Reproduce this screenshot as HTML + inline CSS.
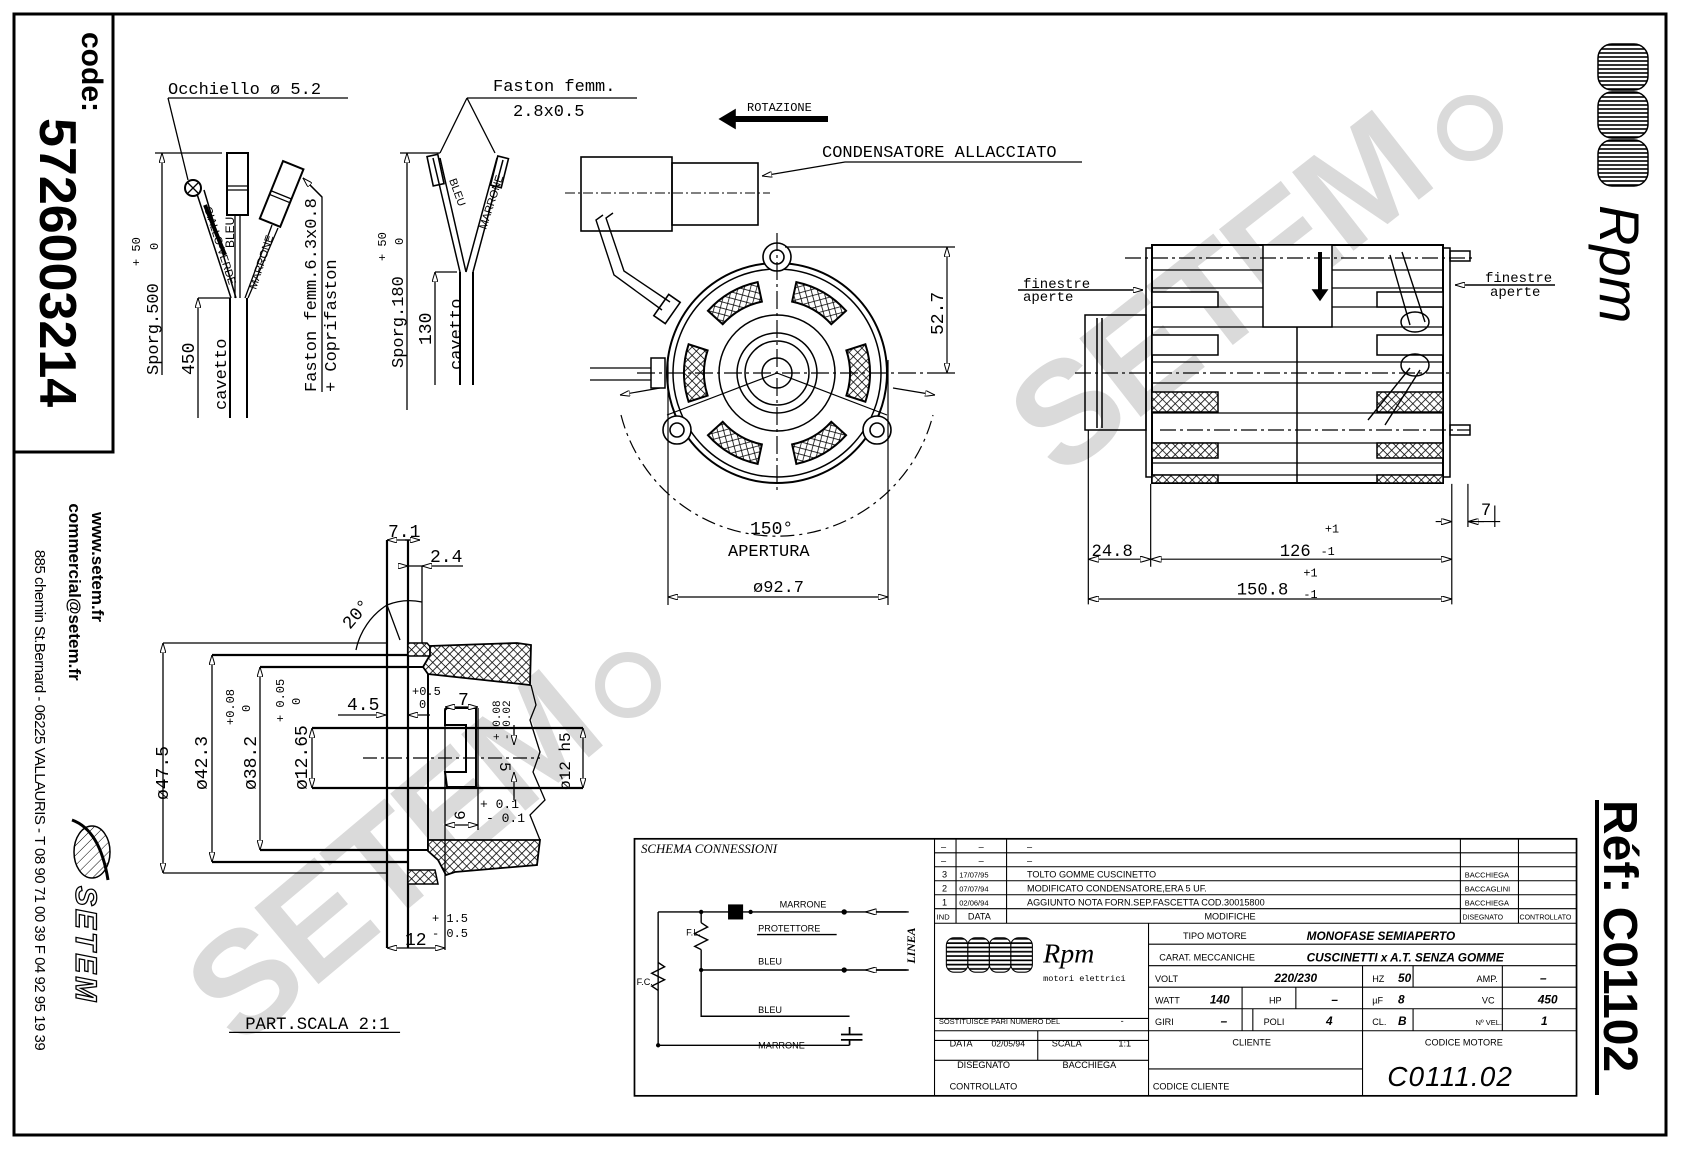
<!DOCTYPE html>
<html><head><meta charset="utf-8"><style>
html,body{margin:0;padding:0;background:#fff;width:1683px;height:1153px;overflow:hidden}
svg{display:block}
text{font-family:"Liberation Sans",sans-serif;fill:#000}
.m{font-family:"Liberation Mono",monospace}
</style></head><body>
<svg width="1683" height="1153" viewBox="0 0 1683 1153" xmlns="http://www.w3.org/2000/svg">
<defs>
<pattern id="h" width="6" height="6" patternUnits="userSpaceOnUse" patternTransform="rotate(45)"><rect width="6" height="6" fill="#fff"/><path d="M0 0V6M0 0H6" stroke="#000" stroke-width="1.6"/></pattern>
<pattern id="d" width="7" height="7" patternUnits="userSpaceOnUse" patternTransform="rotate(45)"><rect width="7" height="7" fill="#fff"/><path d="M0 0V7" stroke="#000" stroke-width="1"/></pattern>
<pattern id="st" width="4" height="4" patternUnits="userSpaceOnUse"><rect width="4" height="4" fill="#fff"/><path d="M0 1H4" stroke="#000" stroke-width="1.6"/></pattern>
<marker id="a" viewBox="0 0 10 6" refX="10" refY="3" markerWidth="10" markerHeight="6" orient="auto-start-reverse" markerUnits="userSpaceOnUse"><path d="M0 0L10 3L0 6Z" fill="#fff" stroke="#000" stroke-width="1"/></marker>
</defs>

<rect x="14" y="14" width="1652" height="1121" fill="none" stroke="#000" stroke-width="3"/>
<path d="M14 452H113V14" fill="none" stroke="#000" stroke-width="3"/>
<path d="M1597 800V1095" stroke="#000" stroke-width="4"/>

<g font-weight="bold" font-family="Liberation Sans,sans-serif">
<text x="0" y="0" font-size="145" transform="translate(1060,480) rotate(-38)" style="fill:#dadada;letter-spacing:-4px">SETEM</text>
<circle cx="1470" cy="128" r="28" fill="none" stroke="#dadada" stroke-width="10"/>
<text x="0" y="0" font-size="145" transform="translate(240,1050) rotate(-40)" style="fill:#dadada;letter-spacing:-4px">SETEM</text>
<circle cx="628" cy="685" r="28" fill="none" stroke="#dadada" stroke-width="10"/>
</g>

<text transform="translate(82,32) rotate(90)" font-size="30" font-weight="bold">code:</text>
<text transform="translate(40,118) rotate(90)" font-size="52" font-weight="bold">5726003214</text>
<text transform="translate(92,567) rotate(90)" font-size="17" font-weight="bold" text-anchor="middle">www.setem.fr</text>
<text transform="translate(69,592) rotate(90)" font-size="17" font-weight="bold" text-anchor="middle">commercial@setem.fr</text>
<text transform="translate(35,800) rotate(90)" font-size="15" text-anchor="middle" style="letter-spacing:-0.5px">885 chemin St.Bernard - 06225 VALLAURIS - T 08 90 71 00 39  F 04 92 95 19 39</text>
<ellipse cx="92" cy="852" rx="18" ry="26" fill="url(#d)" stroke="#000" stroke-width="1.5"/>
<path d="M72 820Q100 830 108 880" fill="none" stroke="#000" stroke-width="3"/>
<text transform="translate(76,886) rotate(90)" font-size="30" font-style="italic" font-weight="bold" style="fill:#fff;stroke:#000;stroke-width:1.3;letter-spacing:3px">SETEM</text>

<g stroke="#000" stroke-width="1.5" fill="url(#st)">
<rect x="1598" y="44" width="50" height="46" rx="14"/>
<rect x="1598" y="92" width="50" height="46" rx="14"/>
<rect x="1598" y="140" width="50" height="46" rx="14"/>
</g>
<text transform="translate(1600,205) rotate(90)" font-size="56" font-style="italic" font-family="Liberation Serif,serif">Rpm</text>
<text transform="translate(1604,800) rotate(90)" font-size="48" font-weight="bold">Réf: C01102</text>

<g fill="none" stroke="#000" stroke-width="1.3">
<path d="M168 98H348M168 98L188 180" />
<path d="M155 153H222"/><path d="M162 153V375" marker-start="url(#a)"/>
<path d="M198 298H230"/><path d="M198 298V418" marker-start="url(#a)"/>
<path d="M230 298V418M247 298V418" stroke-width="2"/>
<rect x="227" y="153" width="21" height="62" stroke-width="2"/><path d="M227 186H248M227 190H248"/>
<path d="M235 215V298M240 215V298"/>
<circle cx="193" cy="188" r="8" stroke-width="2"/><path d="M188 183L198 193M198 183L188 193"/>
<path d="M197 194L231 298M204 190L236 298" stroke-width="1.5"/>
<path d="M205 205L225 255" stroke-width="4"/>
<g transform="rotate(22 282 193)"><rect x="271" y="163" width="22" height="62" stroke-width="2"/><path d="M271 195H293M271 199H293"/></g>
<path d="M272 225L245 298M278 228L248 298"/>
<path d="M303 178L322 197V392" /><path d="M322 197L303 178" marker-end="url(#a)"/>
</g>
<text class="m" x="168" y="94" font-size="17">Occhiello ø 5.2</text>
<text transform="translate(158,375) rotate(-90)" class="m" font-size="17">Sporg.500</text>
<text transform="translate(140,266) rotate(-90)" class="m" font-size="12">+ 50</text>
<text transform="translate(158,250) rotate(-90)" class="m" font-size="12">0</text>
<text transform="translate(194,375) rotate(-90)" class="m" font-size="18">450</text>
<text transform="translate(226,410) rotate(-90)" class="m" font-size="17">cavetto</text>
<text transform="translate(204,208) rotate(72)" font-size="11">GIALLO-VERDE</text>
<text transform="translate(234,248) rotate(-90)" font-size="12">BLEU</text>
<text transform="translate(256,290) rotate(-72)" font-size="11">MARRONE</text>
<text transform="translate(316,392) rotate(-90)" class="m" font-size="17">Faston femm.6.3x0.8</text>
<text transform="translate(336,392) rotate(-90)" class="m" font-size="17">+ Coprifaston</text>

<g fill="none" stroke="#000" stroke-width="1.3">
<path d="M467 98H637M467 98L440 153M467 98L495 153" />
<path d="M400 153H440"/><path d="M407 153V410" marker-start="url(#a)"/>
<path d="M435 272H457"/><path d="M435 272V385" marker-start="url(#a)"/>
<path d="M460 272V385M473 272V385" stroke-width="2"/>
<path d="M460 272L433 158M466 272L440 158M466 272L497 158M473 272L503 160" stroke-width="1.5"/>
<g transform="rotate(-12 436 170)"><rect x="430" y="155" width="11" height="30" stroke-width="1.6"/></g>
<g transform="rotate(14 500 172)"><rect x="494" y="157" width="11" height="30" stroke-width="1.6"/></g>
</g>
<text class="m" x="493" y="91" font-size="17">Faston femm.</text>
<text class="m" x="513" y="116" font-size="17">2.8x0.5</text>
<text transform="translate(403,368) rotate(-90)" class="m" font-size="17">Sporg.180</text>
<text transform="translate(386,261) rotate(-90)" class="m" font-size="12">+ 50</text>
<text transform="translate(403,245) rotate(-90)" class="m" font-size="12">0</text>
<text transform="translate(431,345) rotate(-90)" class="m" font-size="18">130</text>
<text transform="translate(461,370) rotate(-90)" class="m" font-size="17">cavetto</text>
<text transform="translate(449,180) rotate(70)" font-size="11">BLEU</text>
<text transform="translate(486,230) rotate(-72)" font-size="11">MARRONE</text>

<g fill="none" stroke="#000" stroke-width="1.6">
<rect x="581" y="157" width="91" height="74"/><rect x="672" y="163" width="86" height="62"/>
<path d="M565 193H770" stroke-dasharray="10 3 2 3" stroke-width="1"/>
<path d="M603 215L596 220L614 275L662 310M613 213L606 218L624 271L670 302" stroke-width="1.4"/>
<rect x="660" y="296" width="14" height="26" transform="rotate(35 667 309)"/>
<path d="M1082 162H845L762 176" marker-end="url(#a)" stroke-width="1.3"/>
<path d="M828 119H735" stroke-width="6"/><path d="M735 110L720 119L735 128Z" fill="#000"/>
</g>
<text class="m" x="747" y="111" font-size="12">ROTAZIONE</text>
<text class="m" x="822" y="157" font-size="17">CONDENSATORE ALLACCIATO</text>

<g fill="none" stroke="#000" stroke-width="1.5">
<circle cx="777" cy="373" r="110" stroke-width="2"/>
<circle cx="777" cy="373" r="104"/>
<circle cx="777" cy="373" r="58"/><circle cx="777" cy="373" r="40"/><circle cx="777" cy="373" r="32"/><circle cx="777" cy="373" r="15"/>
</g>
<g transform="translate(777,373)" fill="url(#h)" stroke="#000" stroke-width="2">
<path d="M69.4 -22.6A73 73 0 0 1 69.4 22.6L88.4 28.7A93 93 0 0 0 88.4 -28.7Z"/>
<path transform="rotate(60)" d="M69.4 -22.6A73 73 0 0 1 69.4 22.6L88.4 28.7A93 93 0 0 0 88.4 -28.7Z"/>
<path transform="rotate(120)" d="M69.4 -22.6A73 73 0 0 1 69.4 22.6L88.4 28.7A93 93 0 0 0 88.4 -28.7Z"/>
<path transform="rotate(180)" d="M69.4 -22.6A73 73 0 0 1 69.4 22.6L88.4 28.7A93 93 0 0 0 88.4 -28.7Z"/>
<path transform="rotate(240)" d="M69.4 -22.6A73 73 0 0 1 69.4 22.6L88.4 28.7A93 93 0 0 0 88.4 -28.7Z"/>
<path transform="rotate(300)" d="M69.4 -22.6A73 73 0 0 1 69.4 22.6L88.4 28.7A93 93 0 0 0 88.4 -28.7Z"/>
</g>
<g fill="#fff" stroke="#000" stroke-width="1.6">
<circle cx="777" cy="257" r="14"/><circle cx="777" cy="257" r="7"/>
<circle cx="677" cy="430" r="14"/><circle cx="677" cy="430" r="7"/>
<circle cx="877" cy="430" r="14"/><circle cx="877" cy="430" r="7"/>
</g>
<g fill="none" stroke="#000" stroke-width="1.2">
<path d="M777 233V490M637 373H935" stroke-dasharray="18 4 3 4"/>
<path d="M777 373L667 415M777 373L887 415" />
<path d="M621 415A161 161 0 0 0 933 415" stroke-dasharray="14 5 3 5"/>
<path d="M620 395L660 388" marker-start="url(#a)"/><path d="M935 395L893 388" marker-start="url(#a)"/>
<path d="M785 247H955"/><path d="M947 247V373" marker-start="url(#a)" marker-end="url(#a)"/><path d="M935 373H955"/>
<path d="M668 360V605M888 360V605"/><path d="M668 597H888" marker-start="url(#a)" marker-end="url(#a)"/>
<rect x="651" y="358" width="14" height="30" stroke-width="1.5"/>
<path d="M590 368H651M590 380H651"/>
</g>
<text transform="translate(943,335) rotate(-90)" class="m" font-size="18">52.7</text>
<text class="m" x="750" y="534" font-size="18">150°</text>
<text class="m" x="728" y="556" font-size="17">APERTURA</text>
<text class="m" x="753" y="592" font-size="17">ø92.7</text>

<g fill="none" stroke="#000" stroke-width="1.5">
<rect x="1152" y="245" width="291" height="238" stroke-width="2"/>
<rect x="1146" y="248" width="6" height="229"/><rect x="1443" y="248" width="7" height="229"/>
<rect x="1085" y="315" width="61" height="115"/><path d="M1097 318V428M1102 318V428"/>
<path d="M1152 270H1443M1152 288H1443M1152 307H1443M1152 327H1443M1152 362H1443M1152 383H1443M1152 413H1443M1152 443H1443M1152 463H1443M1152 475H1443" stroke-width="1.3"/>
<rect x="1263" y="245" width="69" height="82" fill="#fff"/>
<path d="M1297 327V483"/>
<rect x="1152" y="335" width="66" height="20" fill="#fff"/><rect x="1377" y="335" width="66" height="20" fill="#fff"/>
<rect x="1152" y="292" width="66" height="15" fill="#fff"/><rect x="1377" y="292" width="66" height="15" fill="#fff"/>
<rect x="1152" y="392" width="66" height="20" fill="url(#h)"/><rect x="1377" y="392" width="66" height="20" fill="url(#h)"/>
<rect x="1152" y="443" width="66" height="15" fill="url(#h)"/><rect x="1377" y="443" width="66" height="15" fill="url(#h)"/>
<rect x="1152" y="475" width="66" height="8" fill="url(#h)"/><rect x="1377" y="475" width="66" height="8" fill="url(#h)"/>
<path d="M1125 258H1475M1075 373H1450M1160 430H1470" stroke-dasharray="16 4 3 4" stroke-width="1.2"/>
<path d="M1320 252V292" stroke-width="4"/><path d="M1313 290L1320 300L1327 290Z" fill="#000"/>
<path d="M1390 255L1410 325M1402 252L1425 322" stroke-width="1.4"/><ellipse cx="1415" cy="322" rx="14" ry="10"/>
<path d="M1410 368L1368 420M1420 370L1385 425" stroke-width="1.4"/><ellipse cx="1415" cy="365" rx="14" ry="11"/>
<rect x="1450" y="251" width="20" height="10"/><rect x="1450" y="425" width="20" height="10"/>
<path d="M1018 290H1143" marker-end="url(#a)"/><path d="M1555 285H1455" marker-end="url(#a)"/>
</g>
<text class="m" x="1023" y="288" font-size="14">finestre</text>
<text class="m" x="1023" y="301" font-size="14">aperte</text>
<text class="m" x="1485" y="282" font-size="14">finestre</text>
<text class="m" x="1490" y="296" font-size="14">aperte</text>

<g transform="scale(1.0754)">
<g fill="none" stroke="#000" stroke-width="1.1">
<path d="M1012 400V562M1070 450V527M1350 450V562M1365 450V490M1390 490V470"/>
<path d="M1012 520H1070" marker-start="url(#a)" marker-end="url(#a)"/>
<path d="M1070 520H1350" marker-start="url(#a)" marker-end="url(#a)"/>
<path d="M1012 557H1350" marker-start="url(#a)" marker-end="url(#a)"/>
<path d="M1335 485H1350" marker-end="url(#a)"/><path d="M1380 485H1365" marker-end="url(#a)"/><path d="M1365 485H1395"/>
</g>
<text class="m" x="1015" y="517" font-size="16">24.8</text>
<text class="m" x="1190" y="517" font-size="16">126</text><text class="m" x="1232" y="495" font-size="11">+1</text><text class="m" x="1228" y="516" font-size="11">-1</text>
<text class="m" x="1150" y="553" font-size="16">150.8</text><text class="m" x="1212" y="536" font-size="11">+1</text><text class="m" x="1212" y="556" font-size="11">-1</text>
<text class="m" x="1377" y="479" font-size="16">7</text>
</g>

<g fill="none" stroke="#000" stroke-width="1.3">
<path d="M387 540V948M408 540V948" stroke-width="2.2"/>
<path d="M422 566V643"/>
<path d="M387 540H420" marker-start="url(#a)"/><path d="M420 540H405" marker-start="url(#a)"/>
<path d="M400 566H463"/><path d="M400 566H408" marker-end="url(#a)"/><path d="M430 566H422" marker-end="url(#a)"/>
<path d="M163 643H386M163 873H386"/>
<path d="M212 655H408M260 667H408M212 862H408M260 850H408" stroke-width="2.2"/>
<path d="M163 643V873" marker-start="url(#a)" marker-end="url(#a)"/>
<path d="M212 655V862" marker-start="url(#a)" marker-end="url(#a)"/>
<path d="M260 667V850" marker-start="url(#a)" marker-end="url(#a)"/>
<path d="M312 728V788" marker-start="url(#a)" marker-end="url(#a)"/>
<path d="M312 728H583M312 788H583" stroke-width="2.2"/>
<path d="M363 758H540" stroke-dasharray="14 4 3 4"/>
<rect x="408" y="667" width="20" height="183" stroke-width="2"/>
<path d="M408 643L427 643L438 656L408 656Z" fill="url(#h)" stroke-width="1.5"/>
<path d="M408 870L408 884L438 884L435 870Z" fill="url(#h)" stroke-width="1.5"/>
<path d="M430 655L423 667L428 674L530 685L531 645L517 643L430 646Z" fill="url(#h)" stroke-width="1.8"/>
<path d="M428 840L428 851L438 860L446 875L455 872L537 865L540 840L445 840Z" fill="url(#h)" stroke-width="1.8"/>
<path d="M531 685L536 705L530 720L540 752L533 772L545 800L530 815L540 840"/>
<path d="M445 710L447 708L476 708L476 787L447 787L445 772L466 772L466 725L445 725Z" stroke-width="2"/>
<path d="M445 708V950M478 708V830"/>
<path d="M445 707H478" marker-start="url(#a)" marker-end="url(#a)"/>
<path d="M445 825H478" marker-start="url(#a)" marker-end="url(#a)"/>
<path d="M338 715H386" marker-end="url(#a)"/><path d="M430 715H408" marker-end="url(#a)"/>
<path d="M514 725V745" marker-end="url(#a)"/><path d="M514 800V772" marker-end="url(#a)"/>
<path d="M583 728V788" marker-start="url(#a)" marker-end="url(#a)"/>
<path d="M387 948H445" marker-start="url(#a)" marker-end="url(#a)"/>
<path d="M356 650A70 70 0 0 1 387 605"/><path d="M387 605L400 640M387 605A60 60 0 0 1 422 602"/>
</g>
<text class="m" x="388" y="537" font-size="18">7.1</text>
<text class="m" x="430" y="562" font-size="18">2.4</text>
<text transform="translate(350,630) rotate(-50)" class="m" font-size="18">20°</text>
<text transform="translate(168,800) rotate(-90)" class="m" font-size="18">ø47.5</text>
<text transform="translate(207,790) rotate(-90)" class="m" font-size="18">ø42.3</text>
<text transform="translate(234,725) rotate(-90)" class="m" font-size="12">+0.08</text>
<text transform="translate(250,712) rotate(-90)" class="m" font-size="12">0</text>
<text transform="translate(256,790) rotate(-90)" class="m" font-size="18">ø38.2</text>
<text transform="translate(284,722) rotate(-90)" class="m" font-size="12">+ 0.05</text>
<text transform="translate(300,705) rotate(-90)" class="m" font-size="12">0</text>
<text transform="translate(307,790) rotate(-90)" class="m" font-size="18">ø12.65</text>
<text class="m" x="347" y="710" font-size="18">4.5</text>
<text class="m" x="412" y="695" font-size="12">+0.5</text><text class="m" x="419" y="708" font-size="12">0</text>
<text class="m" x="458" y="705" font-size="18">7</text>
<text transform="translate(500,740) rotate(-90)" class="m" font-size="11">+ 0.08</text>
<text transform="translate(510,740) rotate(-90)" class="m" font-size="11">- 0.02</text>
<text transform="translate(500,762) rotate(90)" class="m" font-size="16">5</text>
<text transform="translate(570,790) rotate(-90)" class="m" font-size="16">ø12 h5</text>
<text class="m" x="480" y="808" font-size="13">+ 0.1</text><text class="m" x="486" y="822" font-size="13">- 0.1</text>
<text transform="translate(465,820) rotate(-90)" class="m" font-size="16">6</text>
<text class="m" x="432" y="922" font-size="12">+ 1.5</text><text class="m" x="432" y="937" font-size="12">- 0.5</text>
<text class="m" x="405" y="945" font-size="18">12</text>
<g transform="scale(1.0754)">
<path d="M213 960H372" stroke="#000" stroke-width="1.2"/>
<text class="m" x="228" y="957" font-size="16">PART.SCALA 2:1</text>
</g>

<g transform="scale(1.0754)">
<g fill="none" stroke="#000" stroke-width="1">
<rect x="590" y="780" width="876" height="239" stroke-width="1.6"/>
<path d="M869 780V1019"/>
<path d="M869 793H1466M869 806H1466M869 819H1466M869 832H1466M869 845H1466M869 858.5H1466" />
<path d="M889 780V858.5M936 780V858.5M1358 780V858.5M1412 780V858.5"/>
<path d="M1068 858.5V1019M1068 878H1466M1068 898H1466M1068 918H1466M1068 938H1466M869 958.5H1466"/>
<path d="M869 947H1068M869 967.5H1068M869 986H1068"/>
<path d="M965 958.5V986"/>
<path d="M1267 898V938M1267 958.5V1019M1314 898V918M1397 898V958.5M1155 918V958.5M1205 918V938M1165 938V958.5M1267 938V958.5M1314 938V958.5"/>
<path d="M1068 994H1267"/>
</g>
<g font-size="8.5">
<text x="875" y="790">–</text><text x="910" y="790">–</text><text x="955" y="790">–</text>
<text x="875" y="803">–</text><text x="910" y="803">–</text><text x="955" y="803">–</text>
<text x="876" y="816">3</text><text x="892" y="816" font-size="7">17/07/95</text><text x="955" y="816">TOLTO GOMME CUSCINETTO</text><text x="1362" y="816" font-size="7">BACCHIEGA</text>
<text x="876" y="829">2</text><text x="892" y="829" font-size="7">07/07/94</text><text x="955" y="829">MODIFICATO CONDENSATORE,ERA 5 UF.</text><text x="1362" y="829" font-size="7">BACCAGLINI</text>
<text x="876" y="842">1</text><text x="892" y="842" font-size="7">02/06/94</text><text x="955" y="842">AGGIUNTO NOTA FORN.SEP.FASCETTA COD.30015800</text><text x="1362" y="842" font-size="7">BACCHIEGA</text>
<text x="871" y="855" font-size="7">IND</text><text x="900" y="855">DATA</text><text x="1120" y="855">MODIFICHE</text><text x="1360" y="855" font-size="6.5">DISEGNATO</text><text x="1413" y="855" font-size="6.5">CONTROLLATO</text>
<text x="1100" y="873">TIPO MOTORE</text>
<text x="1078" y="893">CARAT. MECCANICHE</text>
<text x="1074" y="913">VOLT</text><text x="1074" y="933">WATT</text><text x="1074" y="953">GIRI</text>
<text x="1276" y="913">HZ</text><text x="1373" y="913">AMP.</text>
<text x="1180" y="933">HP</text><text x="1276" y="933">µF</text><text x="1378" y="933">VC</text>
<text x="1175" y="953">POLI</text><text x="1276" y="953">CL.</text><text x="1372" y="953" font-size="7">Nº VEL.</text>
<text x="1146" y="972">CLIENTE</text><text x="1325" y="972">CODICE MOTORE</text>
<text x="1072" y="1013">CODICE CLIENTE</text>
<text x="873" y="952" font-size="7">SOSTITUISCE PARI NUMERO DEL</text><text x="1042" y="952">-</text>
<text x="883" y="973">DATA</text><text x="922" y="973" font-size="8">02/05/94</text><text x="978" y="973">SCALA</text><text x="1040" y="973">1:1</text>
<text x="890" y="993">DISEGNATO</text><text x="988" y="993">BACCHIEGA</text>
<text x="883" y="1013">CONTROLLATO</text>
<text x="725" y="844">MARRONE</text><text x="705" y="866">PROTETTORE</text><text x="705" y="897">BLEU</text><text x="705" y="942">BLEU</text><text x="705" y="975">MARRONE</text>
<text x="638" y="870">F.L.</text><text x="592" y="916">F.C.</text>
</g>
<g font-size="11" style="font-family:'Liberation Serif',serif;font-style:italic;font-weight:bold">
<text x="1215" y="874">MONOFASE SEMIAPERTO</text>
<text x="1215" y="894">CUSCINETTI x A.T. SENZA GOMME</text>
<text x="1185" y="913">220/230</text><text x="1300" y="913">50</text><text x="1432" y="913">–</text>
<text x="1125" y="933">140</text><text x="1238" y="933">–</text><text x="1300" y="933">8</text><text x="1430" y="933">450</text>
<text x="1135" y="953">–</text><text x="1233" y="953">4</text><text x="1300" y="953">B</text><text x="1433" y="953">1</text>
</g>
<text x="596" y="793" font-size="12" style="font-family:'Liberation Serif',serif;font-style:italic">SCHEMA CONNESSIONI</text>
<text transform="translate(851,896) rotate(-90)" font-size="11" style="font-family:'Liberation Serif',serif;font-style:italic;font-weight:bold">LINEA</text>
<text x="1290" y="1010" font-size="26" style="font-style:italic;letter-spacing:1px">C0111.02</text>
<text x="970" y="895" font-size="26" style="font-family:'Liberation Serif',serif;font-style:italic">Rpm</text>
<text x="970" y="912" font-size="8" class="m">motori elettrici</text>
<g stroke="#000" stroke-width="1" fill="url(#st)">
<rect x="880" y="872" width="20" height="32" rx="7"/><rect x="900" y="872" width="20" height="32" rx="7"/><rect x="920" y="872" width="20" height="32" rx="7"/><rect x="940" y="872" width="20" height="32" rx="7"/>
</g>
<g fill="none" stroke="#000" stroke-width="1.3">
<path d="M612 848H843M612 848V972H790M652 848V858M652 883V945H790M652 902H843"/>
<path d="M652 858L658 862L646 868L658 874L646 880L652 883"/>
<path d="M612 895L618 899L606 905L618 911L606 917L612 921"/>
<path d="M790 955V962M790 967V972M782 962H802M782 967H802" stroke-width="1.6"/>
<path d="M704 869H778" />
<path d="M845 848H805" marker-end="url(#a)"/><path d="M845 902H805" marker-end="url(#a)"/>
</g>
<rect x="677" y="841" width="14" height="14" fill="#000"/>
<circle cx="652" cy="848" r="2" fill="#000"/><circle cx="698" cy="848" r="2" fill="#000"/><circle cx="785" cy="848" r="2.5" fill="#000"/><circle cx="785" cy="902" r="2.5" fill="#000"/><circle cx="652" cy="902" r="2" fill="#000"/><circle cx="612" cy="972" r="2" fill="#000"/>
</g>
</svg>
</body></html>
